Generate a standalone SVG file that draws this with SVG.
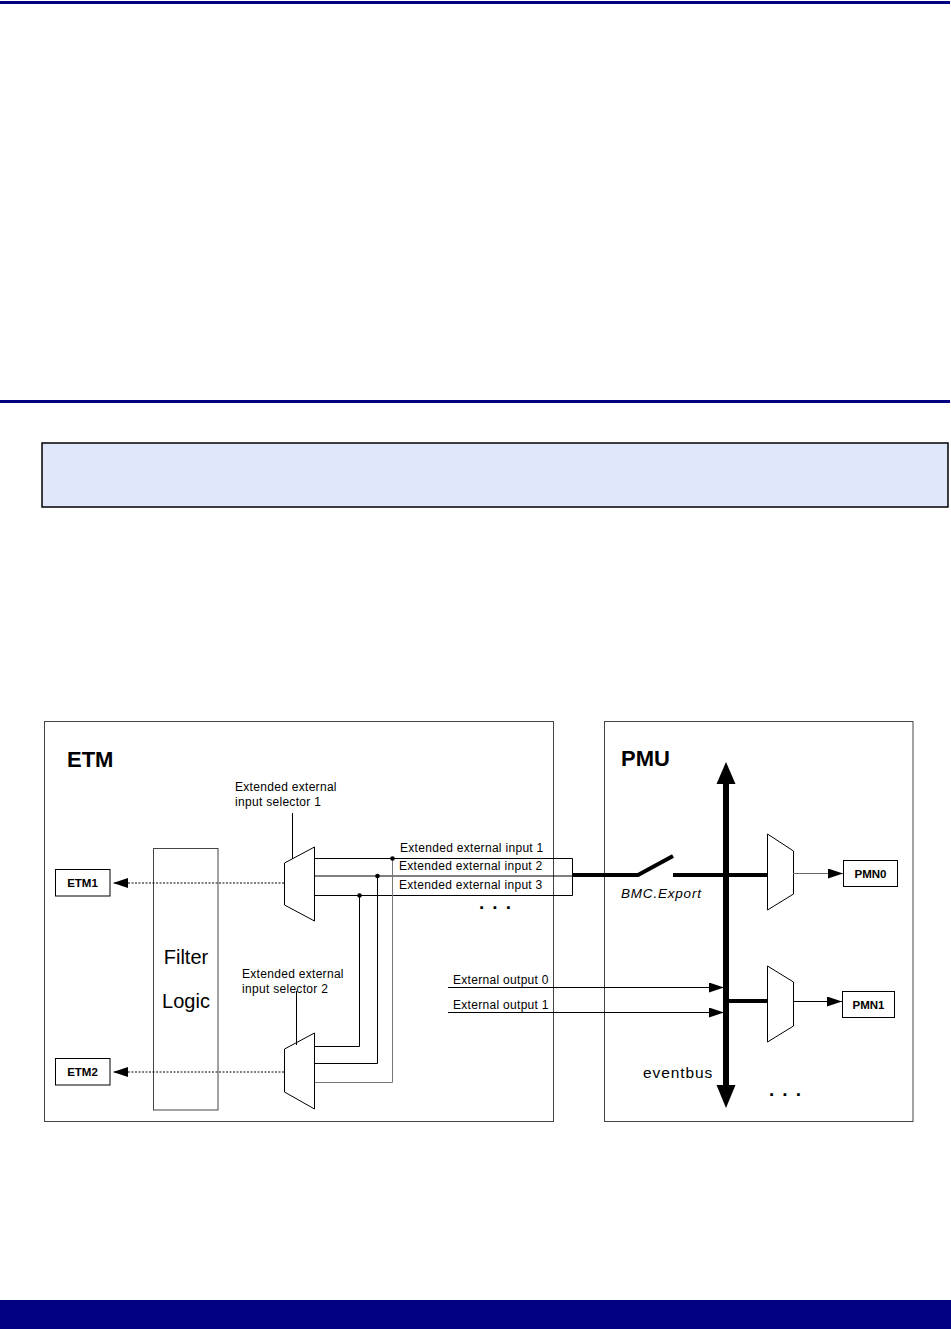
<svg xmlns="http://www.w3.org/2000/svg" width="951" height="1329" viewBox="0 0 951 1329">
<style>
text{font-family:"Liberation Sans",Arial,sans-serif;fill:#000}
.lbl{font-size:12px;letter-spacing:0.3px}
.big{font-size:22px;font-weight:bold}
.box{fill:#fff;stroke:#000;stroke-width:1}
.cont{fill:#fff;stroke:#444;stroke-width:1}
.mux{fill:#fff;stroke:#000;stroke-width:1}
.w{fill:none;stroke:#000;stroke-width:1}
.g{fill:none;stroke:#777;stroke-width:1}
.thick{fill:none;stroke:#000;stroke-width:4}
.dash{fill:none;stroke:#000;stroke-width:1;stroke-dasharray:2,1.5}
.small{font-size:11.5px;font-weight:bold;text-anchor:middle}
.dots{font-size:19px;font-weight:bold;letter-spacing:1.4px}
</style>
<defs>
<marker id="ah" markerUnits="userSpaceOnUse" markerWidth="16" markerHeight="12" refX="15" refY="5" orient="auto">
<path d="M0,0 L15,5 L0,10 z" fill="#000" stroke="none"/>
</marker>
</defs>
<g id="page">
<rect x="0" y="1" width="950" height="3" fill="#000080"/>
<rect x="0" y="400" width="950" height="3" fill="#000080"/>
<rect x="42" y="443" width="906" height="64" fill="#E1E7FB" stroke="#000" stroke-width="1.5"/>
<rect x="0" y="1300" width="951" height="29" fill="#000080"/>
</g>
<g id="etm">
<rect class="cont" x="44.5" y="721.5" width="509" height="400"/>
<text class="big" x="67" y="767">ETM</text>
</g>
<g id="pmu">
<rect class="cont" x="604.5" y="721.5" width="308.5" height="400" stroke="#222"/>
<text class="big" x="621" y="766">PMU</text>
</g>
<g id="filter-logic">
<rect x="153.5" y="848.5" width="64.5" height="261.5" fill="#fff" stroke="#444" stroke-width="1"/>
<text x="186" y="964" font-size="20" text-anchor="middle">Filter</text>
<text x="186" y="1008" font-size="20" text-anchor="middle">Logic</text>
</g>
<g id="etm1">
<rect class="box" x="55.5" y="869.5" width="54.5" height="26.5"/>
<text class="small" x="82.5" y="887">ETM1</text>
</g>
<g id="etm2">
<rect class="box" x="55.5" y="1058.5" width="54.5" height="26.5"/>
<text class="small" x="82.5" y="1076">ETM2</text>
</g>
<g id="selector1">
<polygon class="mux" points="284.5,863 314.5,847 314.5,921 284.5,905"/>
<text class="lbl" x="235" y="791">Extended external</text>
<text class="lbl" x="235" y="806">input selector 1</text>
</g>
<g id="selector2">
<polygon class="mux" points="284.5,1049 314.5,1033 314.5,1109 284.5,1092"/>
<text class="lbl" x="242" y="978">Extended external</text>
<text class="lbl" x="242" y="993">input selector 2</text>
</g>
<g id="pmu-mux0">
<polygon class="mux" points="767.5,834 793.5,851 793.5,894 767.5,910"/>
</g>
<g id="pmu-mux1">
<polygon class="mux" points="767.5,966 793.5,982 793.5,1026 767.5,1042"/>
</g>
<g id="pmn0">
<rect class="box" x="843.5" y="860.5" width="54" height="26"/>
<text class="small" x="870.5" y="878">PMN0</text>
</g>
<g id="pmn1">
<rect class="box" x="842.5" y="991.5" width="52" height="26"/>
<text class="small" x="868.5" y="1009">PMN1</text>
</g>
<g id="eventbus">
<line x1="726" y1="783" x2="726" y2="1086" stroke="#000" stroke-width="6"/>
<polygon points="726,762 716.5,784 735.5,784" fill="#000"/>
<polygon points="726,1108 716.5,1085 735.5,1085" fill="#000"/>
<text x="643" y="1078" font-size="15.5" letter-spacing="0.9">eventbus</text>
</g>
<g id="connectors">
<line class="dash" x1="284" y1="883" x2="113" y2="883" marker-end="url(#ah)"/>
<line class="dash" x1="284" y1="1072" x2="113" y2="1072" marker-end="url(#ah)"/>
<line class="w" x1="292.5" y1="813" x2="292.5" y2="859"/>
<line class="w" x1="296.5" y1="991" x2="296.5" y2="1045"/>
<polyline class="w" points="314,858.5 572.5,858.5 572.5,895.5 314,895.5"/>
<line class="w" x1="314" y1="876" x2="572" y2="876"/>
<polyline class="g" points="392.5,858 392.5,1082.5 315,1082.5"/>
<polyline class="w" points="377.5,876 377.5,1063.5 315,1063.5"/>
<polyline class="w" points="359.5,895 359.5,1046.5 315,1046.5"/>
<circle cx="392.5" cy="858.5" r="2.3" fill="#000"/>
<circle cx="377.5" cy="876" r="2.3" fill="#000"/>
<circle cx="359.5" cy="895.5" r="2.3" fill="#000"/>
<text class="lbl" x="400" y="852">Extended external input 1</text>
<text class="lbl" x="399" y="870">Extended external input 2</text>
<text class="lbl" x="399" y="889">Extended external input 3</text>
<text class="dots" x="479" y="909">. . .</text>
<polyline class="thick" points="572,875 638,875 673,856"/>
<line class="thick" x1="673" y1="875" x2="767" y2="875"/>
<text x="621" y="898" font-size="13.5" font-style="italic" letter-spacing="0.8" fill="#222">BMC.Export</text>
<line class="thick" x1="726" y1="1001" x2="767" y2="1001"/>
<line x1="448" y1="987.5" x2="724" y2="987.5" stroke="#000" stroke-width="1" marker-end="url(#ah)"/>
<line x1="448" y1="1012.5" x2="724" y2="1012.5" stroke="#000" stroke-width="1" marker-end="url(#ah)"/>
<text class="lbl" x="453" y="984">External output 0</text>
<text class="lbl" x="453" y="1009">External output 1</text>
<line x1="793" y1="873.5" x2="843" y2="873.5" stroke="#666" stroke-width="1" marker-end="url(#ah)"/>
<line x1="793" y1="1001.5" x2="842" y2="1001.5" stroke="#000" stroke-width="1" marker-end="url(#ah)"/>
<text class="dots" x="769" y="1096">. . .</text>
</g>
</svg>
